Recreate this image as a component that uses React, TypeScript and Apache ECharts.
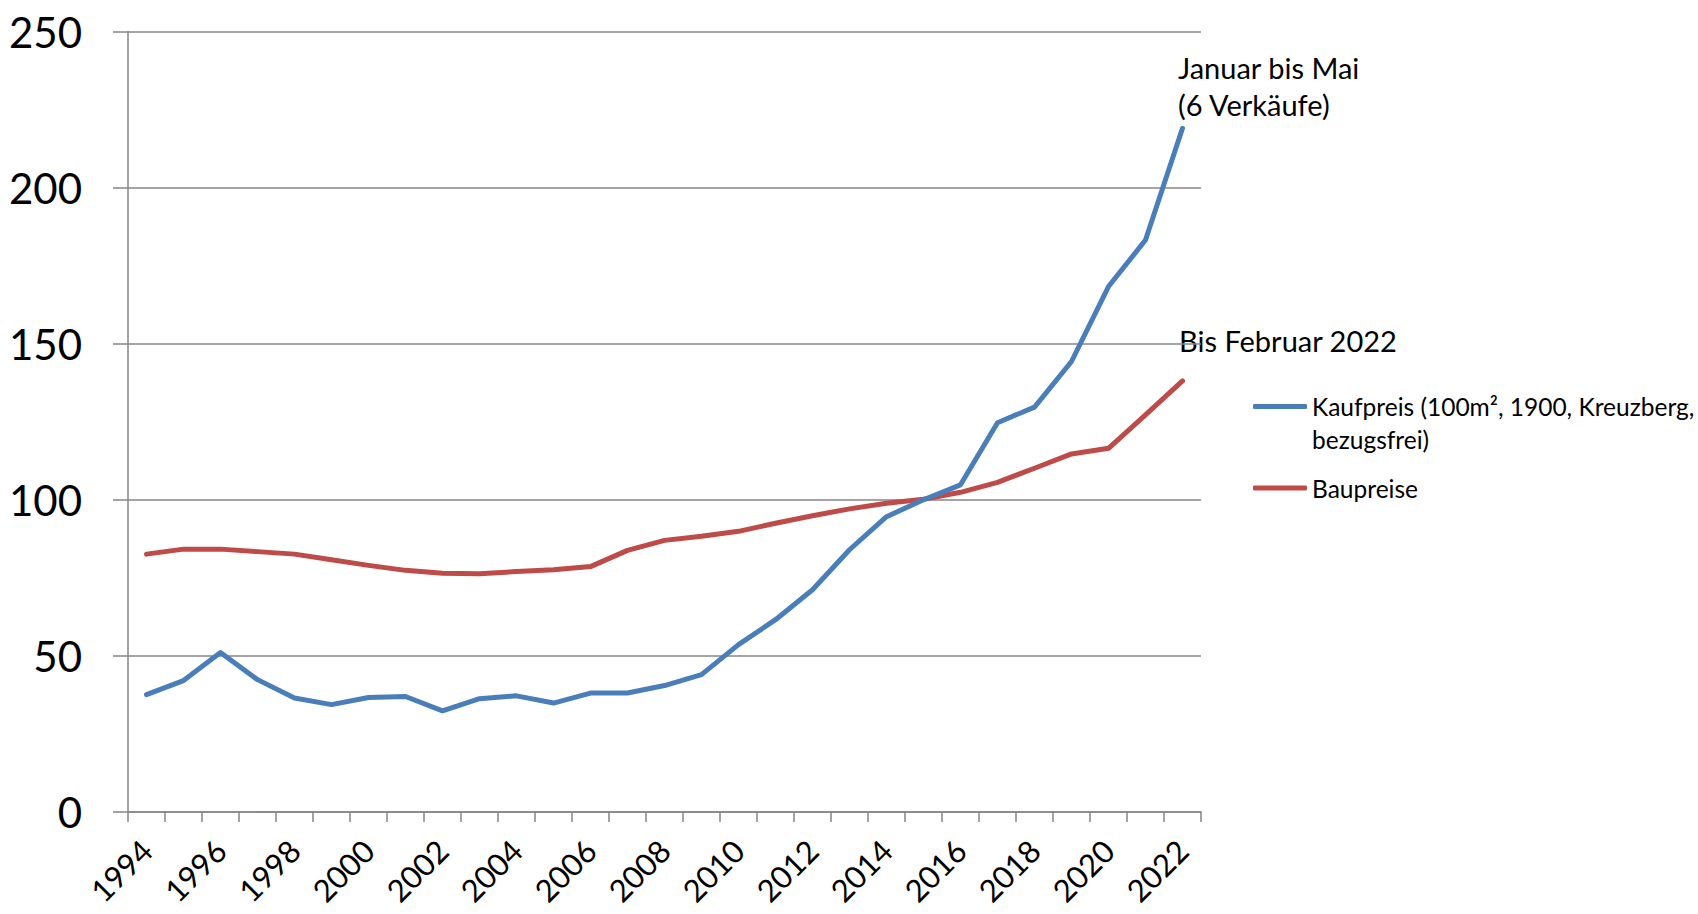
import React, { useEffect, useRef } from "react";
import * as echarts from "echarts";

const years = [
  "1994", "1995", "1996", "1997", "1998", "1999", "2000", "2001", "2002", "2003",
  "2004", "2005", "2006", "2007", "2008", "2009", "2010", "2011", "2012", "2013",
  "2014", "2015", "2016", "2017", "2018", "2019", "2020", "2021", "2022",
];

const kaufpreis = [
  37.6, 42.1, 51.1, 42.4, 36.5, 34.4, 36.7, 37.0, 32.4, 36.3,
  37.2, 34.9, 38.1, 38.1, 40.5, 44.0, 53.6, 61.6, 71.2, 84.0,
  94.6, 100, 104.8, 124.7, 129.7, 144.3, 168.3, 183.2, 219.0,
];

const baupreise = [
  82.6, 84.2, 84.2, 83.4, 82.6, 80.8, 79.0, 77.4, 76.5, 76.3,
  77.0, 77.6, 78.6, 83.8, 87.0, 88.3, 89.9, 92.5, 94.9, 97.1,
  98.9, 100.2, 102.4, 105.6, 110.1, 114.7, 116.5, 127.2, 138.1,
];

const seriesNames = ["Kaufpreis (100m², 1900, Kreuzberg, bezugsfrei)", "Baupreise"];
const legendLabels = [" \nKaufpreis (100m², 1900, Kreuzberg,\nbezugsfrei)", "Baupreise"];
const annotations = ["Januar bis Mai\n(6 Verkäufe)", "Bis Februar 2022"];

const BLUE = "#4A7EBB";
const RED = "#BE4B48";
const GRID = "#868686";
const FONT = "Lato";

export default function App() {
  const ref = useRef<HTMLDivElement>(null);

  useEffect(() => {
    const chart = echarts.init(ref.current!, null, { renderer: "svg" });
    chart.setOption({
      animation: false,
      backgroundColor: "#ffffff",
      grid: {
        left: 128,
        right: 497,
        top: 31.5,
        bottom: 102,
        containLabel: false,
        outerBoundsMode: "none",
      },
      xAxis: {
        type: "category",
        data: years,
        boundaryGap: true,
        axisLine: { show: true, lineStyle: { color: GRID, width: 1.5 } },
        axisTick: { show: true, interval: 0, length: 10, lineStyle: { color: GRID, width: 1.5 } },
        axisLabel: {
          interval: 1,
          rotate: 45,
          margin: 33,
          fontFamily: FONT,
          fontSize: 31,
          lineHeight: 28,
          color: "#000",
        },
        splitLine: { show: false },
      },
      yAxis: {
        type: "value",
        min: 0,
        max: 250,
        interval: 50,
        axisLine: { show: true, lineStyle: { color: GRID, width: 1.5 } },
        axisTick: { show: true, length: 15, lineStyle: { color: GRID, width: 1.5 } },
        axisLabel: { margin: 46, fontFamily: FONT, fontSize: 42, color: "#000" },
        splitLine: { show: true, lineStyle: { color: GRID, width: 1.5 } },
      },
      legend: {
        orient: "vertical",
        left: 1253,
        top: 357,
        padding: 0,
        itemGap: 15.5,
        itemWidth: 54,
        itemHeight: 5,
        icon: "roundRect",
        selectedMode: false,
        textStyle: { fontFamily: FONT, fontSize: 24.5, color: "#000", lineHeight: 33 },
        data: [{ name: seriesNames[0] }, { name: seriesNames[1] }],
        formatter: (n: string) => legendLabels[seriesNames.indexOf(n)] ?? n,
      },
      graphic: [
        {
          type: "text",
          x: 1178,
          y: 49,
          style: {
            text: annotations[0],
            fontFamily: FONT,
            fontSize: 29,
            lineHeight: 36.7,
            fill: "#000",
            verticalAlign: "top",
          },
        },
        {
          type: "text",
          x: 1179,
          y: 322,
          style: {
            text: annotations[1],
            fontFamily: FONT,
            fontSize: 29,
            lineHeight: 36.7,
            fill: "#000",
            verticalAlign: "top",
          },
        },
      ],
      series: [
        {
          name: seriesNames[0],
          type: "line",
          data: kaufpreis,
          color: BLUE,
          showSymbol: false,
          symbol: "none",
          lineStyle: { color: BLUE, width: 5, cap: "round", join: "round" },
          itemStyle: { color: BLUE },
          z: 3,
        },
        {
          name: seriesNames[1],
          type: "line",
          data: baupreise,
          color: RED,
          showSymbol: false,
          symbol: "none",
          lineStyle: { color: RED, width: 5, cap: "round", join: "round" },
          itemStyle: { color: RED },
          z: 2,
        },
      ],
    });
    return () => chart.dispose();
  }, []);

  return (
    <div
      ref={ref}
      style={{ position: "fixed", left: 0, top: 0, width: 1698, height: 914, background: "#fff" }}
    />
  );
}
